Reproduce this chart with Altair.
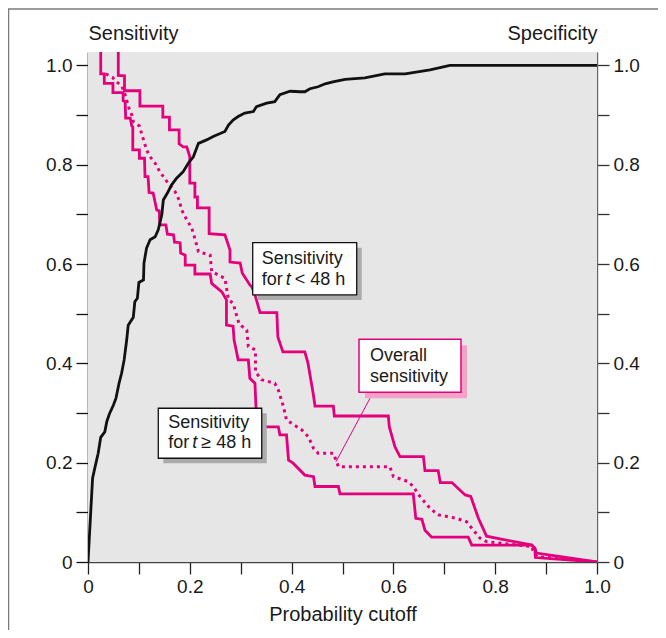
import altair as alt
import pandas as pd

# ---------------- data ----------------
spec_x = [0, 0.009, 0.014, 0.020, 0.025, 0.033, 0.037, 0.042, 0.050, 0.055, 0.061, 0.066, 0.071,
          0.076, 0.079, 0.089, 0.092, 0.097, 0.100, 0.109, 0.110, 0.115, 0.122, 0.132, 0.138,
          0.145, 0.148, 0.156, 0.164, 0.174, 0.187, 0.197, 0.207, 0.217, 0.233, 0.246, 0.269,
          0.276, 0.285, 0.295, 0.308, 0.325, 0.331, 0.351, 0.367, 0.377, 0.397, 0.417, 0.426,
          0.436, 0.452, 0.466, 0.481, 0.505, 0.544, 0.583, 0.623, 0.672, 0.711, 1.0]
spec_y = [0, 0.169, 0.192, 0.219, 0.251, 0.262, 0.283, 0.298, 0.316, 0.330, 0.360, 0.380, 0.407,
          0.447, 0.477, 0.493, 0.524, 0.531, 0.563, 0.568, 0.602, 0.632, 0.649, 0.655, 0.669,
          0.699, 0.729, 0.743, 0.759, 0.773, 0.786, 0.803, 0.816, 0.843, 0.850, 0.857, 0.867,
          0.880, 0.890, 0.897, 0.904, 0.907, 0.917, 0.924, 0.927, 0.941, 0.948, 0.947, 0.947,
          0.953, 0.957, 0.963, 0.967, 0.972, 0.975, 0.983, 0.983, 0.991, 1.0, 1.0]

lt48_x = [0.0595, 0.0595, 0.0717, 0.0717, 0.102, 0.102, 0.147, 0.147, 0.160, 0.160, 0.179, 0.179,
          0.187, 0.194, 0.200, 0.200, 0.210, 0.210, 0.215, 0.215, 0.238, 0.238, 0.269, 0.279,
          0.279, 0.299, 0.303, 0.318, 0.322, 0.328, 0.338, 0.371, 0.373, 0.383, 0.426, 0.432,
          0.442, 0.446, 0.482, 0.484, 0.590, 0.592, 0.603, 0.613, 0.659, 0.662, 0.688, 0.692,
          0.715, 0.741, 0.752, 0.767, 0.783, 0.872, 0.878, 0.881, 1.0]
lt48_y = [1.027, 0.980, 0.979, 0.949, 0.949, 0.918, 0.918, 0.896, 0.896, 0.870, 0.870, 0.842,
          0.836, 0.836, 0.816, 0.763, 0.763, 0.735, 0.735, 0.713, 0.713, 0.661, 0.659, 0.628,
          0.604, 0.602, 0.582, 0.558, 0.554, 0.538, 0.502, 0.502, 0.453, 0.423, 0.423, 0.401,
          0.342, 0.314, 0.314, 0.294, 0.294, 0.272, 0.232, 0.212, 0.212, 0.184, 0.184, 0.160,
          0.160, 0.135, 0.132, 0.088, 0.052, 0.034, 0.028, 0.018, 0.0]

ge48_x = [0.025, 0.025, 0.032, 0.032, 0.049, 0.049, 0.069, 0.069, 0.073, 0.074, 0.083, 0.086,
          0.088, 0.088, 0.101, 0.101, 0.111, 0.112, 0.118, 0.120, 0.128, 0.135, 0.140, 0.141,
          0.153, 0.156, 0.168, 0.170, 0.181, 0.182, 0.191, 0.191, 0.210, 0.210, 0.240, 0.243,
          0.263, 0.272, 0.272, 0.285, 0.287, 0.295, 0.315, 0.318, 0.328, 0.330, 0.334, 0.350,
          0.374, 0.377, 0.390, 0.394, 0.403, 0.426, 0.443, 0.446, 0.492, 0.495, 0.639, 0.644,
          0.656, 0.662, 0.675, 0.747, 0.754, 0.872, 0.878, 0.879, 1.0]
ge48_y = [1.027, 0.983, 0.983, 0.964, 0.964, 0.945, 0.945, 0.929, 0.927, 0.894, 0.894, 0.878,
          0.876, 0.830, 0.830, 0.813, 0.813, 0.776, 0.776, 0.744, 0.743, 0.709, 0.707, 0.679,
          0.679, 0.660, 0.659, 0.644, 0.643, 0.622, 0.618, 0.598, 0.598, 0.580, 0.580, 0.561,
          0.544, 0.528, 0.477, 0.475, 0.447, 0.407, 0.407, 0.370, 0.360, 0.312, 0.286, 0.272,
          0.272, 0.256, 0.256, 0.205, 0.199, 0.175, 0.172, 0.152, 0.152, 0.137, 0.137, 0.088,
          0.086, 0.064, 0.050, 0.050, 0.034, 0.034, 0.026, 0.009, 0.0]

overall_x = [0.035, 0.048, 0.056, 0.066, 0.073, 0.081, 0.086, 0.089, 0.101, 0.107, 0.115, 0.122,
             0.132, 0.141, 0.155, 0.171, 0.179, 0.184, 0.194, 0.204, 0.210, 0.217, 0.240, 0.243,
             0.269, 0.276, 0.285, 0.297, 0.312, 0.315, 0.329, 0.329, 0.341, 0.367, 0.374, 0.384,
             0.390, 0.420, 0.433, 0.443, 0.452, 0.482, 0.492, 0.593, 0.600, 0.629, 0.639, 0.652,
             0.672, 0.688, 0.724, 0.744, 0.754, 0.770, 0.783, 0.872, 0.875, 0.882, 1.0]
overall_y = [0.983, 0.976, 0.967, 0.959, 0.941, 0.912, 0.900, 0.887, 0.878, 0.857, 0.830, 0.816,
             0.803, 0.786, 0.766, 0.746, 0.729, 0.709, 0.689, 0.672, 0.651, 0.625, 0.618, 0.585,
             0.571, 0.528, 0.521, 0.479, 0.467, 0.434, 0.427, 0.383, 0.367, 0.360, 0.346, 0.313,
             0.286, 0.266, 0.252, 0.229, 0.219, 0.219, 0.192, 0.192, 0.172, 0.162, 0.152, 0.132,
             0.108, 0.095, 0.088, 0.081, 0.068, 0.048, 0.041, 0.031, 0.021, 0.011, 0.0]

# annotation boxes (data coordinates): x, x2, y, y2
box_x = [0.3236, 0.1381, 0.5324]
box_x2 = [0.5279, 0.3413, 0.7328]
box_y = [0.6431, 0.3096, 0.4486]
box_y2 = [0.5378, 0.2089, 0.3418]
box_kind = ["black", "black", "pink"]

# annotation text lines
txt_plain = ["Sensitivity", "for", "Sensitivity", "for", "Overall", "sensitivity"]
txt_plain_x = [0.3413, 0.3413, 0.1578, 0.1578, 0.554, 0.554]
txt_plain_y = [0.6097, 0.568, 0.2794, 0.2391, 0.4149, 0.3732]
txt_ital = ["t", "t"]
txt_rest = ["< 48 h", "\u2265 48 h"]
txt_line2_x = [0.3413, 0.1578]
txt_line2_y = [0.568, 0.2391]

pointer = {"x": [0.554], "y": [0.3297], "x2": [0.4872], "y2": [0.2020]}

tick_vals = [round(i * 0.1, 1) for i in range(11)]

# ---------------- chart ----------------
PINK = "#e4007c"
FONT = "Liberation Sans"
TXT = "#1a1a1a"
W, H = 509, 510
YTOP = 1.027

xs = alt.Scale(domain=[0, 1], nice=False, zero=False)
ys = alt.Scale(domain=[0, YTOP], nice=False, zero=False)
label_expr = "round(datum.value*10) % 2 == 1 ? '' : (datum.value == 0 ? '0' : format(datum.value, '.1f'))"

def lines_df(xv, yv):
    return pd.DataFrame({"x": xv, "y": yv, "i": list(range(len(xv)))})

x_axis = alt.Axis(orient="bottom", values=tick_vals, labelExpr=label_expr, tickSize=12,
                  tickColor="#222", tickWidth=1.3, domainColor="#444", domainWidth=1.5,
                  labelFontSize=19, labelPadding=3, labelColor=TXT, labelFlush=False,
                  labelOverlap=False, title="Probability cutoff",
                  titleFontSize=20, titleFontWeight="normal", titleColor=TXT, titlePadding=8,
                  grid=False, labelFont=FONT, titleFont=FONT)
yl_axis = alt.Axis(orient="left", values=tick_vals, labelExpr=label_expr, tickSize=12,
                   tickColor="#111", tickWidth=1.3, domainColor="#111", domainWidth=1.6,
                   labelFontSize=19, labelPadding=4, labelColor=TXT, labelFlush=False,
                   labelOverlap=False, title="Sensitivity",
                   titleAngle=0, titleAlign="left", titleBaseline="alphabetic", titleX=0,
                   titleY=-13, titleFontSize=20, titleFontWeight="normal", titleColor=TXT,
                   grid=False, labelFont=FONT, titleFont=FONT)
yr_axis = alt.Axis(orient="right", values=tick_vals, labelExpr=label_expr, tickSize=12,
                   tickColor="#333", tickWidth=1.3, domainColor="#666", domainWidth=1.4,
                   labelFontSize=19, labelPadding=4, labelColor=TXT, labelFlush=False,
                   labelOverlap=False, title="Specificity",
                   titleAngle=0, titleAlign="right", titleBaseline="alphabetic", titleX=0,
                   titleY=-13, titleFontSize=20, titleFontWeight="normal", titleColor=TXT,
                   grid=False, labelFont=FONT, titleFont=FONT)

def XN():
    return alt.X("x:Q", scale=xs, axis=None)

def YN():
    return alt.Y("y:Q", scale=ys, axis=None)

# plot-area background
bg = alt.Chart(pd.DataFrame({"a": [0]})).mark_rect(color="#e6e6e6").encode(
    x=alt.value(0), x2=alt.value(W), y=alt.value(0), y2=alt.value(H))

ge48 = alt.Chart(lines_df(ge48_x, ge48_y)).mark_line(color=PINK, strokeWidth=2.8, clip=True).encode(
    x=alt.X("x:Q", scale=xs, axis=x_axis),
    y=alt.Y("y:Q", scale=ys, axis=yl_axis),
    order="i:Q",
)
lt48 = alt.Chart(lines_df(lt48_x, lt48_y)).mark_line(color=PINK, strokeWidth=2.8, clip=True).encode(
    x=XN(), y=YN(), order="i:Q")
overall = alt.Chart(lines_df(overall_x, overall_y)).mark_line(
    color=PINK, strokeWidth=3, strokeDash=[3, 4], clip=True).encode(x=XN(), y=YN(), order="i:Q")

spec = alt.Chart(lines_df(spec_x, spec_y)).mark_line(color="#111", strokeWidth=2.8, clip=True).encode(
    x=XN(),
    y=alt.Y("y:Q", scale=ys, axis=yr_axis),
    order="i:Q",
)

boxes = pd.DataFrame({"x": box_x, "x2": box_x2, "y": box_y, "y2": box_y2, "kind": box_kind})
shadow_gray = alt.Chart(boxes[boxes.kind == "black"]).mark_rect(
    color="#ababab", xOffset=5, x2Offset=5, yOffset=5, y2Offset=5).encode(
    x=XN(), x2="x2:Q", y=YN(), y2="y2:Q")
shadow_pink = alt.Chart(boxes[boxes.kind == "pink"]).mark_rect(
    color="#f4a3c6", xOffset=6, x2Offset=6, yOffset=6, y2Offset=6).encode(
    x=XN(), x2="x2:Q", y=YN(), y2="y2:Q")
box_black = alt.Chart(boxes[boxes.kind == "black"]).mark_rect(
    fill="white", stroke="#111", strokeWidth=1.3).encode(
    x=XN(), x2="x2:Q", y=YN(), y2="y2:Q")
box_pink = alt.Chart(boxes[boxes.kind == "pink"]).mark_rect(
    fill="white", stroke=PINK, strokeWidth=1.5).encode(
    x=XN(), x2="x2:Q", y=YN(), y2="y2:Q")

ptr = alt.Chart(pd.DataFrame(pointer)).mark_rule(color=PINK, strokeWidth=1).encode(
    x=XN(), x2="x2:Q", y=YN(), y2="y2:Q")

plain = alt.Chart(pd.DataFrame({"t": txt_plain, "x": txt_plain_x, "y": txt_plain_y})).mark_text(
    align="left", baseline="middle", font=FONT, fontSize=18, color=TXT).encode(
    x=XN(), y=YN(), text="t:N")
ital = alt.Chart(pd.DataFrame({"t": txt_ital, "x": txt_line2_x, "y": txt_line2_y})).mark_text(
    align="left", baseline="middle", font=FONT, fontSize=18, fontStyle="italic", color=TXT, dx=24).encode(
    x=XN(), y=YN(), text="t:N")
rest = alt.Chart(pd.DataFrame({"t": txt_rest, "x": txt_line2_x, "y": txt_line2_y})).mark_text(
    align="left", baseline="middle", font=FONT, fontSize=18, color=TXT, dx=33).encode(
    x=XN(), y=YN(), text="t:N")

# outer frame of the figure
frame_top = alt.Chart(pd.DataFrame({"a": [0]})).mark_rule(color="#7a7a7a", strokeWidth=1.5).encode(
    x=alt.value(-80), x2=alt.value(W + 100), y=alt.value(-43))
frame_left = alt.Chart(pd.DataFrame({"a": [0]})).mark_rule(color="#7a7a7a", strokeWidth=1.5).encode(
    x=alt.value(-79.5), y=alt.value(-43), y2=alt.value(H + 120))

chart = alt.layer(
    bg, ge48, lt48, overall, spec, ptr, shadow_gray, shadow_pink, box_black, box_pink,
    plain, ital, rest, frame_top, frame_left
).resolve_axis(x="independent", y="independent").properties(
    width=W, height=H,
    autosize=alt.AutoSizeParams(type="none"),
    padding={"left": 80, "top": 44, "right": 61, "bottom": 68},
    background="white",
).configure_view(fill="#e6e6e6", stroke="transparent").configure(font=FONT)

chart.save("out.html", embed_options={"renderer": "svg", "actions": False})
